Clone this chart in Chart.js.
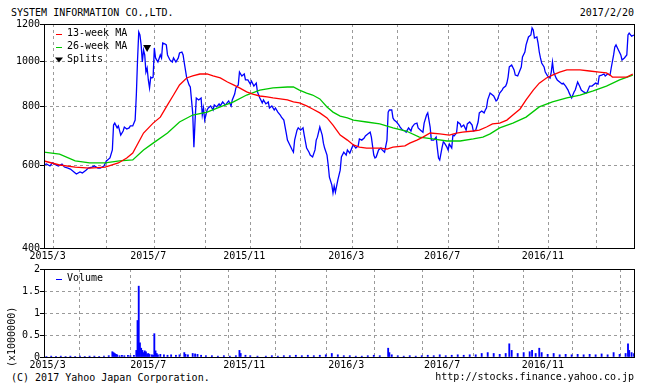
<!DOCTYPE html>
<html>
<head>
<meta charset="utf-8">
<script src="https://cdn.jsdelivr.net/npm/chart.js@4.4.1/dist/chart.umd.min.js"></script>
<style>
  html, body { margin: 0; padding: 0; background: #fff; }
  body { width: 648px; height: 390px; position: relative; overflow: hidden;
         font: 10px "DejaVu Sans Mono", monospace; color: #000; }
  .t { position: absolute; white-space: pre; line-height: 12px; }
  #main { position: absolute; left: 0; top: 0; width: 648px; height: 262px; }
  #vol  { position: absolute; left: 0; top: 262px; width: 648px; height: 110px; }
  #unit { left: -18px; top: 331px; width: 60px; text-align: center; transform: rotate(-90deg); }
</style>
</head>
<body>
<div class="t" style="left:11px;top:7px">SYSTEM INFORMATION CO.,LTD.</div>
<div class="t" style="right:14px;top:7px">2017/2/20</div>
<div id="main"><canvas id="mainChart"></canvas></div>
<div id="vol"><canvas id="volChart"></canvas></div>
<div class="t" id="unit">(x1000000)</div>
<div class="t" style="left:11px;top:372px">(C) 2017 Yahoo Japan Corporation.</div>
<div class="t" style="right:14px;top:371px">http://stocks.finance.yahoo.co.jp</div>

<script>
// 2015/2/20 - 2017/2/20, x = trading day index (0 = first day)
const gridDays = [8, 52, 92, 135, 172, 214, 257, 295, 337, 379, 421, 461];
const monthLabels = ["2015/3", "", "2015/7", "", "2015/11", "", "2016/3", "", "2016/7", "", "2016/11", ""];
const priceTicks = [400, 600, 800, 1000, 1200];
const volTicks = [0, 0.5, 1, 1.5, 2];

// [day, close]
const closePrice = [
  [0,601],[2,604],[5,598],[7,607],[10,601],[12,598],[15,604],[17,595],[20,592],[22,589],[25,581],[27,575],
  [30,581],[32,578],[35,586],[37,592],[40,595],[42,598],[45,592],[47,592],[50,598],[52,613],[53,616],[55,622],
  [57,647],[58,731],[59,738],[61,721],[62,728],[64,696],[66,710],[67,724],[69,717],[71,721],[72,728],[74,728],
  [76,749],[77,847],[78,1006],[79,1154],[80,1137],[81,1083],[82,996],[83,1056],[84,1031],[85,948],[86,967],
  [87,912],[88,877],[89,925],[90,921],[91,925],[92,1067],[93,1016],[95,996],[97,1031],[98,1016],[99,1093],
  [101,1088],[102,1083],[103,1031],[105,1006],[107,996],[108,1016],[110,996],[112,1016],[113,1041],[115,1046],
  [116,1031],[117,991],[119,921],[121,890],[122,881],[123,827],[124,776],[125,656],[126,749],[127,835],[129,827],
  [131,835],[132,768],[133,795],[134,749],[136,787],[137,795],[139,803],[141,787],[142,807],[144,799],[146,811],
  [147,803],[149,819],[151,807],[152,811],[154,823],[156,803],[157,827],[159,851],[160,877],[162,890],[163,948],
  [165,930],[167,939],[168,912],[170,912],[172,894],[173,907],[175,885],[177,898],[178,860],[180,835],[182,815],
  [183,827],[185,811],[187,819],[188,795],[190,803],[192,787],[193,795],[195,779],[197,768],[198,760],[200,749],
  [202,703],[203,679],[205,663],[207,647],[208,640],[209,679],[211,713],[212,721],[214,713],[216,721],[217,696],
  [219,653],[221,640],[222,631],[224,625],[226,647],[227,679],[228,689],[230,724],[232,696],[233,669],[234,653],
  [236,631],[237,601],[238,566],[240,545],[241,524],[242,542],[243,526],[245,558],[247,586],[248,625],[250,640],
  [252,631],[253,647],[255,637],[257,656],[258,663],[260,653],[262,660],[263,683],[265,679],[267,686],[268,693],
  [270,700],[272,706],[273,689],[275,631],[276,622],[277,625],[279,647],[281,653],[282,647],[284,640],[286,679],
  [287,779],[288,787],[290,787],[291,757],[292,749],[294,742],[296,731],[297,724],[299,713],[301,710],[302,706],
  [304,721],[306,710],[307,724],[309,735],[311,738],[312,721],[314,713],[316,706],[317,738],[319,768],[320,776],
  [322,724],[323,679],[325,679],[327,689],[328,653],[329,622],[330,616],[332,656],[333,673],[334,669],[336,656],
  [337,647],[338,666],[340,653],[341,696],[342,693],[344,703],[345,742],[347,735],[348,724],[350,731],[352,713],
  [353,735],[355,742],[357,731],[358,710],[360,713],[362,742],[363,776],[365,783],[367,776],[368,787],[369,795],
  [370,827],[372,855],[373,851],[375,843],[377,823],[378,827],[380,855],[382,868],[383,877],[385,885],[386,898],
  [387,925],[388,972],[390,981],[392,958],[393,934],[395,930],[397,958],[398,972],[399,1021],[401,1046],[402,1083],
  [404,1126],[406,1137],[407,1177],[408,1165],[409,1120],[411,1126],[412,1093],[413,1046],[414,1016],[415,991],
  [417,972],[418,948],[420,930],[422,921],[423,948],[424,996],[425,948],[427,921],[428,912],[430,903],[432,894],
  [433,898],[435,885],[437,868],[438,855],[440,835],[442,860],[443,868],[445,903],[447,881],[448,868],[450,860],
  [452,855],[453,860],[455,885],[457,885],[458,890],[460,898],[462,894],[463,930],[465,934],[467,939],[468,930],
  [470,939],[472,934],[473,967],[475,1031],[476,1072],[477,1083],[479,1056],[481,1031],[482,1006],[484,1016],
  [486,1031],[487,1137],[488,1148],[490,1131],[492,1137]
];

// 13-week moving average
const ma13 = [
  [0,613],[13,601],[26,595],[38,592],[51,595],[62,607],[69,622],[74,637],[83,703],[91,738],[97,760],[103,807],
  [108,847],[113,890],[119,921],[124,930],[130,939],[136,939],[141,930],[147,921],[153,903],[158,890],[163,877],
  [169,860],[174,851],[180,843],[186,839],[191,835],[197,831],[203,827],[208,819],[213,815],[219,803],[224,791],
  [230,776],[236,757],[241,731],[244,713],[247,696],[253,679],[258,663],[263,656],[269,653],[280,653],[286,650],
  [291,656],[301,660],[305,669],[311,679],[316,689],[322,703],[330,700],[338,696],[344,703],[349,706],[358,710],
  [363,713],[369,724],[374,735],[380,738],[386,749],[391,768],[397,791],[402,827],[408,868],[413,898],[419,921],
  [424,934],[430,948],[436,958],[447,958],[455,953],[463,948],[469,944],[472,934],[474,925],[486,925],[491,939]
];

// 26-week moving average
const ma26 = [
  [0,640],[13,634],[26,613],[38,607],[51,607],[63,613],[74,616],[83,647],[91,669],[103,703],[113,742],[124,768],
  [136,779],[147,799],[158,819],[169,847],[180,868],[191,877],[203,881],[208,881],[213,868],[219,855],[224,847],
  [230,831],[236,799],[241,779],[247,764],[253,757],[258,749],[269,742],[280,735],[291,721],[302,710],[313,689],
  [324,683],[336,676],[347,676],[358,683],[366,689],[372,700],[380,721],[391,738],[402,760],[413,799],[424,819],
  [436,835],[447,847],[458,864],[469,885],[480,912],[491,934]
];

const splits = [[86,1070]];

// volume in millions
const volume = [
  [2,0.01],[6,0.02],[10,0.01],[14,0.02],[18,0.01],[22,0.02],[26,0.01],[30,0.02],[34,0.01],[38,0.02],[42,0.02],
  [46,0.01],[50,0.02],[54,0.03],[57,0.12],[58,0.10],[59,0.08],[60,0.06],[61,0.05],[63,0.03],[65,0.04],[67,0.03],
  [70,0.04],[72,0.03],[75,0.04],[77,0.15],[78,0.83],[79,1.61],[80,0.32],[81,0.20],[82,0.15],[83,0.10],[84,0.14],
  [85,0.12],[86,0.07],[87,0.08],[88,0.06],[90,0.05],[91,0.04],[92,0.53],[93,0.14],[94,0.08],[95,0.05],[97,0.06],
  [100,0.05],[103,0.04],[106,0.05],[110,0.04],[113,0.05],[117,0.10],[118,0.06],[120,0.05],[124,0.08],[126,0.07],
  [128,0.06],[131,0.04],[135,0.03],[140,0.03],[145,0.02],[150,0.03],[155,0.02],[160,0.03],[163,0.15],[164,0.08],
  [168,0.04],[172,0.03],[178,0.02],[185,0.02],[190,0.03],[195,0.02],[200,0.03],[205,0.03],[210,0.04],[215,0.03],
  [220,0.04],[225,0.03],[230,0.04],[235,0.05],[240,0.08],[245,0.05],[250,0.03],[255,0.03],[260,0.02],[265,0.02],
  [270,0.03],[275,0.04],[280,0.03],[287,0.20],[288,0.10],[290,0.05],[295,0.03],[300,0.02],[305,0.03],[310,0.02],
  [315,0.03],[320,0.04],[325,0.03],[330,0.05],[335,0.03],[340,0.04],[345,0.05],[350,0.04],[355,0.05],[360,0.05],
  [365,0.08],[370,0.10],[375,0.08],[380,0.06],[385,0.08],[388,0.30],[390,0.15],[395,0.08],[400,0.10],[405,0.12],
  [407,0.15],[410,0.08],[413,0.20],[415,0.10],[420,0.06],[425,0.08],[430,0.05],[435,0.06],[440,0.05],[445,0.06],
  [450,0.05],[455,0.06],[460,0.05],[465,0.07],[470,0.05],[475,0.10],[480,0.06],[485,0.08],[487,0.30],[488,0.15],
  [490,0.10],[492,0.08]
];

const LAST_DAY = 492;
const GRID = "#9a9a9a";
const FONT = "DejaVu Sans Mono";

Chart.defaults.font.family = FONT;
Chart.defaults.font.size = 10;
Chart.defaults.color = "#000";

const pts = arr => arr.map(([x, y]) => ({ x, y }));

// black box round the plot area
const frame = {
  id: "frame",
  afterDatasetsDraw(chart) {
    const { ctx, chartArea: a } = chart;
    ctx.save();
    ctx.strokeStyle = "#000";
    ctx.lineWidth = 1;
    ctx.strokeRect(a.left + 0.5, a.top + 0.5, a.right - a.left, a.bottom - a.top);
    ctx.restore();
  }
};

// legend drawn inside the plot, top-left
const innerLegend = {
  id: "innerLegend",
  afterDraw(chart, args, opts) {
    const { ctx, chartArea: a } = chart;
    ctx.save();
    ctx.font = "10px " + FONT;
    ctx.textBaseline = "middle";
    opts.items.forEach((it, i) => {
      const x = a.left + 12, y = a.top + 9.5 + i * 13;
      if (it.tri) {
        ctx.fillStyle = "#000";
        ctx.beginPath();
        ctx.moveTo(x - 1, y - 2); ctx.lineTo(x + 7, y - 2); ctx.lineTo(x + 3, y + 3);
        ctx.closePath(); ctx.fill();
      } else {
        ctx.strokeStyle = it.color; ctx.lineWidth = 1;
        ctx.beginPath(); ctx.moveTo(x, Math.round(y) + 0.5); ctx.lineTo(x + 6, Math.round(y) + 0.5); ctx.stroke();
      }
      ctx.fillStyle = "#000";
      ctx.fillText(it.label, x + 11, y);
    });
    ctx.restore();
  }
};

function xAxis(height) {
  return {
    type: "linear", min: 0, max: LAST_DAY, offset: false,
    afterBuildTicks: s => { s.ticks = gridDays.map(v => ({ value: v })); },
    afterFit: s => { s.height = height; },
    ticks: { autoSkip: false, maxRotation: 0, padding: 2, labelOffset: -6,
             callback: (v, i) => monthLabels[i] },
    grid: { color: GRID, drawTicks: false },
    border: { display: false, dash: [3, 3] }
  };
}

function yAxis(type, min, max, values) {
  return {
    type, min, max,
    afterBuildTicks: s => { s.ticks = values.map(v => ({ value: v })); },
    afterFit: s => { s.width = 44; },
    ticks: { padding: 0, autoSkip: false, callback: v => String(v) },
    grid: { color: GRID, tickLength: 4, tickColor: "#000", tickBorderDash: [] },
    border: { display: false, dash: [3, 3] }
  };
}

new Chart(document.getElementById("mainChart"), {
  type: "line",
  data: {
    datasets: [
      { label: "Splits", data: pts(splits), showLine: false, pointStyle: "triangle", rotation: 180,
        pointRadius: 4.6, pointBackgroundColor: "#000", pointBorderColor: "#000", pointBorderWidth: 0, order: 0 },
      { label: "13-week MA", data: pts(ma13), borderColor: "#ff0000", order: 1 },
      { label: "26-week MA", data: pts(ma26), borderColor: "#00c800", order: 2 },
      { label: "Close", data: pts(closePrice), borderColor: "#0000ff", order: 3 }
    ]
  },
  options: {
    responsive: true, maintainAspectRatio: false, animation: false,
    layout: { padding: { top: 24, right: 14, left: 0, bottom: 0 } },
    elements: { line: { borderWidth: 1.3, tension: 0 }, point: { radius: 0, hoverRadius: 0 } },
    plugins: {
      legend: { display: false }, tooltip: { enabled: false },
      innerLegend: { items: [
        { label: "13-week MA", color: "#ff0000" },
        { label: "26-week MA", color: "#00c800" },
        { label: "Splits", tri: true }
      ] }
    },
    scales: {
      x: xAxis(14),
      y: yAxis("logarithmic", 400, 1200, priceTicks)
    }
  },
  plugins: [frame, innerLegend]
});

new Chart(document.getElementById("volChart"), {
  type: "bar",
  data: {
    datasets: [
      { label: "Volume", data: pts(volume), backgroundColor: "#0000ff", borderWidth: 0,
        barThickness: 1.2, grouped: false }
    ]
  },
  options: {
    responsive: true, maintainAspectRatio: false, animation: false,
    layout: { padding: { top: 7, right: 14, left: 0, bottom: 0 } },
    plugins: {
      legend: { display: false }, tooltip: { enabled: false },
      innerLegend: { items: [{ label: "Volume", color: "#0000ff" }] }
    },
    scales: {
      x: xAxis(15),
      y: yAxis("linear", 0, 2, volTicks)
    }
  },
  plugins: [frame, innerLegend]
});
</script>
</body>
</html>
